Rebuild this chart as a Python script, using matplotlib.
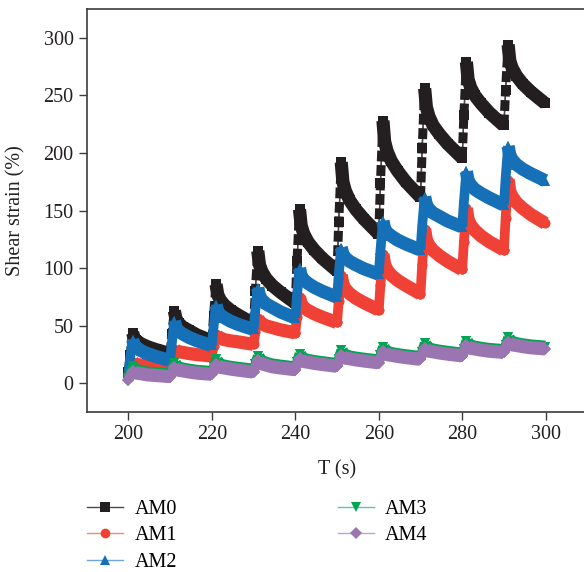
import matplotlib.pyplot as plt
import numpy as np

plt.rcParams['font.family'] = ['Liberation Serif', 'DejaVu Serif']

# ten creep-recovery cycles: 1 s loading then 9 s recovery
cycle_start = [200, 210, 220, 230, 240, 250, 260, 270, 280, 290]
offsets = [0, 0.4, 1.0, 1.4, 2.0, 3.0, 4.5, 6.5, 9.9]

# shear strain (%) per cycle, one row per cycle
am0 = [[10, 25, 44, 39, 37, 34.5, 32, 29.5, 26],
       [26, 43, 63, 56, 52.5, 49, 46, 42, 37],
       [37, 59, 86, 77, 72.5, 68, 63.5, 59, 52],
       [52, 80, 115, 103, 97, 91, 85, 79, 70],
       [70, 106, 151, 137, 130, 123, 116, 108.5, 98],
       [98, 140, 192, 175, 167, 159, 151, 142.5, 130],
       [130, 174, 228, 210, 201.5, 193, 184.5, 175, 162],
       [162, 204, 256, 240, 232, 224, 216.5, 208, 196],
       [196, 233, 279, 264, 257, 250, 243, 235, 224],
       [224, 255, 294, 280, 273.5, 267, 260, 253, 243]]

am1 = [[7, 12.5, 19, 17.5, 16.5, 16, 15, 14, 13],
       [13, 20.5, 30, 28.5, 27.5, 27, 26, 25, 24],
       [24, 32.5, 43, 40.5, 39.5, 38, 37, 36, 34],
       [34, 44.5, 57, 53.5, 52, 50, 48.5, 46.5, 44],
       [44, 58, 75, 69, 66, 63.5, 60.5, 57.5, 53],
       [53, 71.5, 94, 86, 82, 78, 74, 70, 64],
       [64, 85.5, 112, 103, 98.5, 94, 89.5, 85, 78],
       [78, 103, 134, 124.5, 120, 115.5, 111, 106, 99],
       [99, 123, 152, 142.5, 137.5, 133, 128, 123, 116],
       [116, 143.5, 177, 166.5, 162, 157, 152, 146.5, 139]]

am2 = [[9, 22, 38, 33, 31, 28.5, 26, 23.5, 20],
       [20, 35, 54, 48.5, 45.5, 43, 40, 37, 33],
       [33, 49, 68, 62.5, 59.5, 57, 54, 51, 47],
       [47, 63, 83, 76, 72.5, 69, 66, 62, 57],
       [57, 76.5, 100, 93, 90, 87, 83.5, 80, 75],
       [75, 94.5, 118, 112, 109, 106, 103, 99.5, 95],
       [95, 115.5, 141, 134, 131, 128, 124.5, 121, 116],
       [116, 136.5, 162, 155, 151.5, 148, 145, 141, 136],
       [136, 157.5, 184, 176, 172.5, 168.5, 165, 161, 155],
       [155, 178, 206, 198, 194, 190, 186, 182, 176]]

am3 = [[4.5, 8.5, 15, 12, 11, 10, 9, 8.5, 7.5],
       [7.5, 11.5, 18, 15, 13.5, 12.5, 11.5, 10.5, 9.5],
       [9.5, 14, 21, 17.5, 16, 15, 14, 13, 11.5],
       [11.5, 16.5, 24, 20.5, 19, 17.5, 16, 15, 13.5],
       [13.5, 18.5, 26, 22.5, 21, 20, 19, 18, 16.5],
       [16.5, 21.5, 29, 25.5, 24, 23, 22, 21, 19.5],
       [19.5, 24.5, 32, 28.5, 27, 26, 25, 24, 22.5],
       [22.5, 27.5, 35, 31.5, 30, 29, 28, 27, 25.5],
       [25.5, 30, 37, 34, 32.5, 31.5, 30.5, 29.5, 28.5],
       [28.5, 33, 40, 37, 35.5, 34.5, 33.5, 32.5, 31.5]]

am4 = [[3, 6.5, 11, 9.5, 9, 8.5, 7.5, 7, 6],
       [6, 9.5, 14, 12.5, 11.5, 11, 10, 9, 8],
       [8, 12, 17, 15, 14, 13.5, 12.5, 11.5, 10],
       [10, 14.5, 20, 18, 17, 16, 14.5, 13.5, 12],
       [12, 16.5, 22, 20, 19, 18.5, 17.5, 16.5, 15],
       [15, 19.5, 25, 23, 22, 21.5, 20.5, 19.5, 18],
       [18, 22.5, 28, 26, 25, 24.5, 23.5, 22.5, 21],
       [21, 25.5, 31, 29, 28, 27.5, 26.5, 25.5, 24],
       [24, 28, 33, 31.5, 30.5, 30, 29, 28, 27],
       [27, 31, 36, 34.5, 33.5, 33, 32, 31, 30]]

labels = ['AM0', 'AM1', 'AM2', 'AM3', 'AM4']
markers = ['s', 'o', '^', 'v', 'D']
msizes = [6.5, 7, 7.5, 7.5, 6]
colors = ['#231f20', '#ef4136', '#1570b8', '#00a651', '#9b74b2']
line_colors = ['#4a4a4a', '#f4877f', '#6fa6da', '#5cc9a0', '#bba3d1']
data = [am0, am1, am2, am3, am4]

n = len(offsets)
t = np.concatenate([np.array(offsets) + c for c in cycle_start])

fig = plt.figure(figsize=(5.84, 5.72), dpi=100)
ax = fig.add_axes([0.1485, 0.2792, 0.8573, 0.7051])

handles = []
for i, (lab, vals) in enumerate(zip(labels, data)):
    y = np.array(vals, dtype=float).ravel()
    z = 2 + 3 * i
    # thin connecting line with markers (legend entry), kept underneath
    h, = ax.plot(t, y, color=line_colors[i], lw=1.0, marker=markers[i],
                 ms=msizes[i], mfc=colors[i], mec=colors[i], mew=0,
                 label=lab, zorder=z)
    handles.append(h)
    if i == 0:
        ax.plot(t, y, color='#4a4a4a', lw=1.0, zorder=z + 1)
    for k in range(len(cycle_start)):
        rise = slice(k * n, k * n + 3)
        fall = slice(k * n + 2, (k + 1) * n)
        if i == 0:
            # loading steps show up as stacked squares
            ax.plot(t[rise], y[rise], color=colors[i], lw=6.5,
                    dashes=(1.2, 0.4), dash_capstyle='butt', zorder=z + 1)
        else:
            ax.plot(t[rise], y[rise], color=colors[i], lw=7,
                    solid_capstyle='butt', zorder=z + 1)
        ax.plot(t[fall], y[fall], color=colors[i], lw=9.5,
                solid_joinstyle='round', solid_capstyle='butt', zorder=z + 1)
    ax.plot(t, y, ls='none', marker=markers[i], ms=msizes[i],
            mfc=colors[i], mec=colors[i], mew=0, zorder=z + 2)

ax.set_xlim(190, 310)
ax.set_ylim(-25, 325)
ax.set_xticks([200, 220, 240, 260, 280, 300])
ax.set_yticks([0, 50, 100, 150, 200, 250, 300])

for side in ['left', 'bottom', 'top', 'right']:
    ax.spines[side].set_color('#3c3c3c')
    ax.spines[side].set_linewidth(1.2)
ax.tick_params(direction='out', length=5.5, width=1.0, color='#3c3c3c',
               labelsize=14.5, labelcolor='#231f20', pad=4)

ax.set_xlabel('T (s)', fontsize=14.5, color='#231f20')
ax.set_ylabel('Shear strain (%)', fontsize=14.5, color='#231f20')
ax.xaxis.set_label_coords(0.5, -0.118)
ax.yaxis.set_label_coords(-0.123, 0.5)

fig.legend(handles=handles, loc='upper left', bbox_to_anchor=(0.149, 0.126),
           ncol=2, frameon=False, fontsize=14.5, handlelength=1.8,
           handletextpad=0.55, columnspacing=8.0, labelspacing=0.36,
           borderpad=0, borderaxespad=0)

fig.savefig('out.png', dpi=100)
